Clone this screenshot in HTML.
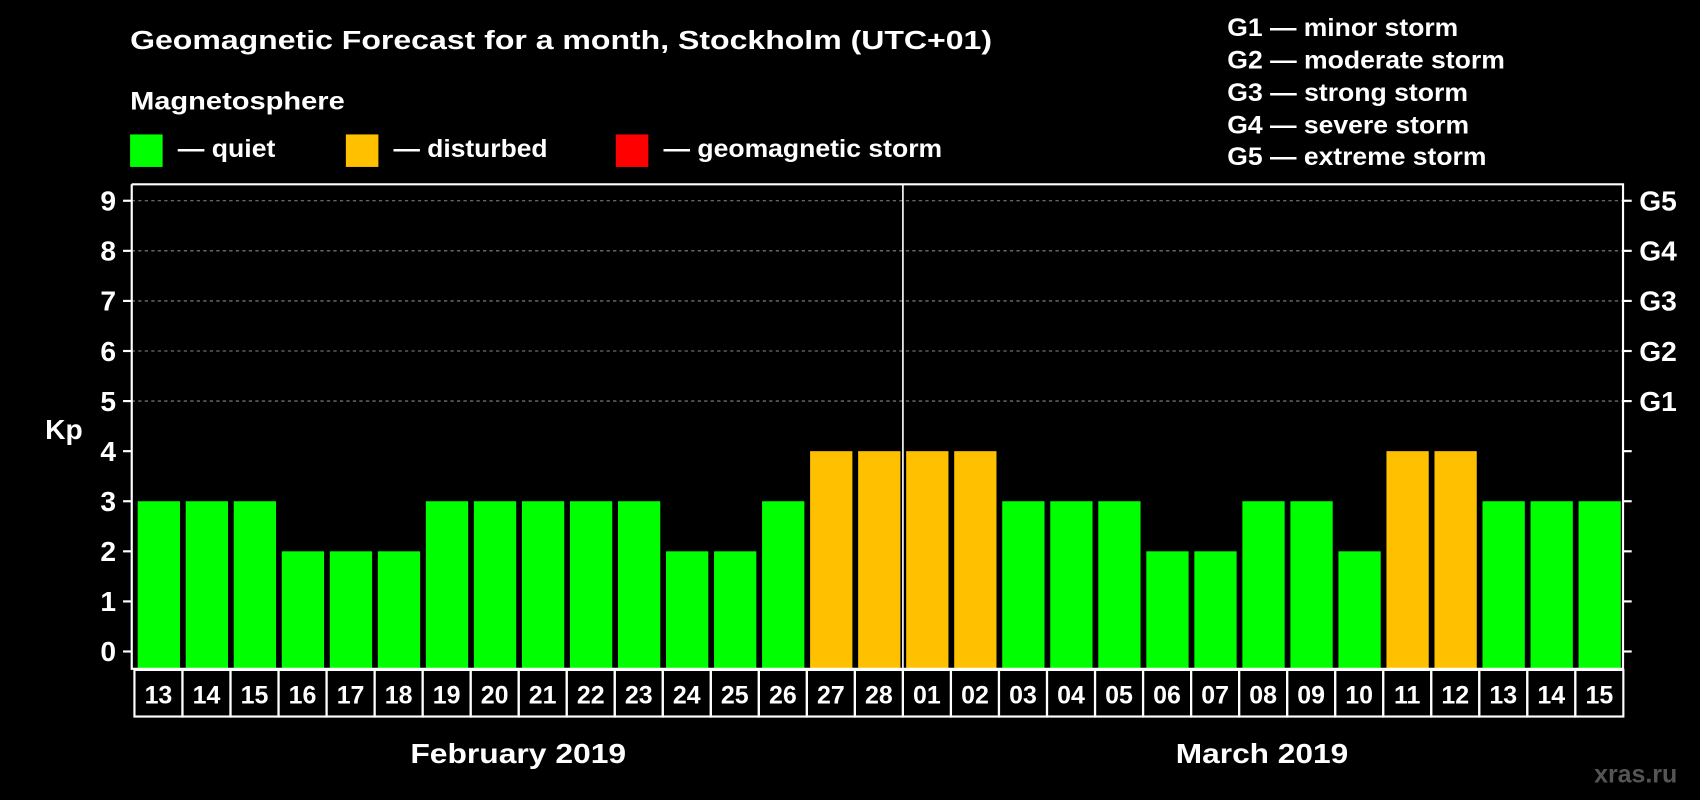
<!DOCTYPE html>
<html><head><meta charset="utf-8"><style>
html,body{margin:0;padding:0;background:#000;}
svg{display:block;}
text{font-family:"Liberation Sans",Arial,sans-serif;font-weight:bold;fill:#fff;}
</style></head><body>
<svg id="chart" width="1700" height="800" viewBox="0 0 1568 738" preserveAspectRatio="none" xmlns="http://www.w3.org/2000/svg">
<rect width="1568" height="738" fill="#000"/>
<text x="120" y="45" font-size="24" textLength="795" lengthAdjust="spacingAndGlyphs">Geomagnetic Forecast for a month, Stockholm (UTC+01)</text>
<text x="120" y="101" font-size="23" textLength="198" lengthAdjust="spacingAndGlyphs">Magnetosphere</text>
<g><rect x="120" y="124" width="30" height="30" fill="#00ff00"/><text x="164" y="145" font-size="23" textLength="90" lengthAdjust="spacingAndGlyphs">— quiet</text></g>
<g><rect x="319" y="124" width="30" height="30" fill="#ffc000"/><text x="363" y="145" font-size="23" textLength="142" lengthAdjust="spacingAndGlyphs">— disturbed</text></g>
<g><rect x="568" y="124" width="30" height="30" fill="#ff0000"/><text x="612" y="145" font-size="23" textLength="257" lengthAdjust="spacingAndGlyphs">— geomagnetic storm</text></g>
<g>
<text x="1132" y="33" font-size="23" textLength="213" lengthAdjust="spacingAndGlyphs">G1 — minor storm</text>
<text x="1132" y="63" font-size="23" textLength="256" lengthAdjust="spacingAndGlyphs">G2 — moderate storm</text>
<text x="1132" y="93" font-size="23" textLength="222" lengthAdjust="spacingAndGlyphs">G3 — strong storm</text>
<text x="1132" y="123" font-size="23" textLength="223" lengthAdjust="spacingAndGlyphs">G4 — severe storm</text>
<text x="1132" y="152" font-size="23" textLength="239" lengthAdjust="spacingAndGlyphs">G5 — extreme storm</text>
</g>
<text x="59" y="405" font-size="26" text-anchor="middle">Kp</text>
<text x="478" y="704" font-size="26" text-anchor="middle" textLength="199" lengthAdjust="spacingAndGlyphs">February 2019</text>
<text x="1164" y="704" font-size="26" text-anchor="middle" textLength="159" lengthAdjust="spacingAndGlyphs">March 2019</text>
<text x="1547" y="722" font-size="23" text-anchor="end" style="fill:#555">xras.ru</text>
<g id="plot"></g>
</svg>
<script>
const days=["13","14","15","16","17","18","19","20","21","22","23","24","25","26","27","28","01","02","03","04","05","06","07","08","09","10","11","12","13","14","15"];
const kp=[3,3,3,2,2,2,3,3,3,3,3,2,2,3,4,4,4,4,3,3,3,2,2,3,3,2,4,4,3,3,3];
const yTicks=[0,1,2,3,4,5,6,7,8,9];
const gLabels=["G1","G2","G3","G4","G5"];
const gLevels=[5,6,7,8,9];
const NS="http://www.w3.org/2000/svg";
const g=document.getElementById('plot');
const L=121.5,R=1497,T=170,B=617,x0=124,bw=44.3;
const y=v=>601-v*46.2;
const x=i=>x0+i*bw;
function mk(t,a){const e=document.createElementNS(NS,t);for(const k in a)e.setAttribute(k,a[k]);g.appendChild(e);return e;}
gLevels.forEach(v=>{const l=mk('line',{x1:L,x2:R,y1:y(v),y2:y(v),stroke:'#888','stroke-dasharray':'3,3','stroke-width':1});

});
kp.forEach((v,i)=>{const c=v>=5?'#ff0000':(v>=4?'#ffc000':'#00ff00');
const r=mk('rect',{x:x(i)+3,y:y(v),width:39,height:B-y(v),fill:c});


const c2=mk('rect',{x:x(i),y:B+1,width:bw,height:43,fill:'none',stroke:'#fff','stroke-width':2});


const t=mk('text',{x:x(i)+bw/2,y:B+32,'font-size':23,'text-anchor':'middle'});t.textContent=days[i];

});
const ax=mk('path',{d:`M${L} ${T}V${B}H${R}V${T}H${L}`,fill:'none',stroke:'#fff','stroke-width':2});


const dv=mk('line',{x1:x(16),x2:x(16),y1:T,y2:B,stroke:'#fff','stroke-width':1.5});


yTicks.forEach(v=>{mk('line',{x1:L-8,x2:L,y1:y(v),y2:y(v),stroke:'#fff','stroke-width':2});
mk('line',{x1:R,x2:R+8,y1:y(v),y2:y(v),stroke:'#fff','stroke-width':2});
const t=mk('text',{x:107,y:y(v)+9,'font-size':26,'text-anchor':'end'});t.textContent=v;

});
gLevels.forEach((v,i)=>{const t=mk('text',{x:1512,y:y(v)+9,'font-size':26});t.textContent=gLabels[i];

});
</script>
</body></html>
